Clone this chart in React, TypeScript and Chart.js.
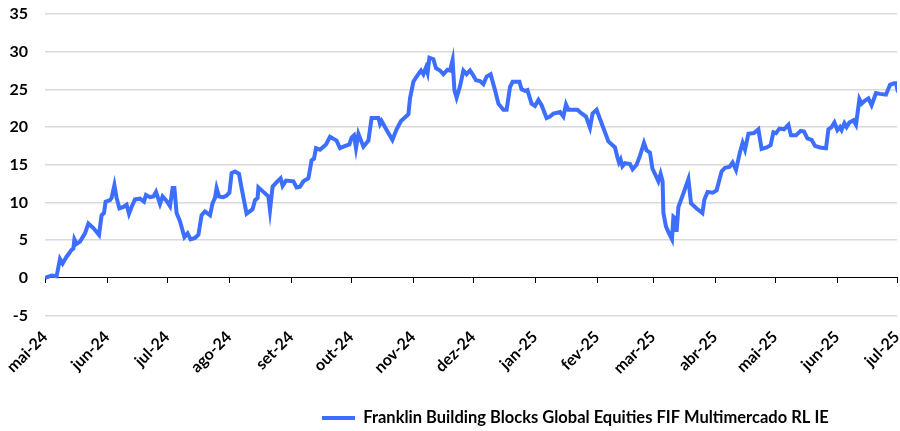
import React, { useEffect, useRef } from "react";
import { Chart, registerables } from "chart.js";

Chart.register(...registerables);

// Month tick labels (first day of each month, starting 1 May 2024)
const monthLabels = [
  "mai-24", "jun-24", "jul-24", "ago-24", "set-24", "out-24", "nov-24", "dez-24",
  "jan-25", "fev-25", "mar-25", "abr-25", "mai-25", "jun-25", "jul-25",
];

// Days elapsed since 1 May 2024
const days = [
  0, 3.3, 5.8, 7.5, 8.8, 10.8, 13.3, 14.2, 14.7, 15.8, 17.5, 20, 21.7, 24.2, 27, 28.3, 29.5, 30.3,
  32.5, 33.3, 34.7, 35.8, 37.2, 39.2, 40.8, 42, 43.3, 45, 47.5, 49.5, 50.5, 52.5, 54.2, 55.5, 57.5,
  58.8, 60.8, 62.5, 63.8, 64.7, 65.8, 67.5, 69.7, 71.3, 72.8, 75, 76.7, 78.3, 80, 82.5, 83.8, 85,
  85.8, 87, 89.2, 90.8, 92.2, 93.3, 95, 97, 98.3, 100.8, 103.8, 105, 106.3, 106.7, 109.2, 111.7,
  112.5, 113.8, 116.2, 117.8, 118.8, 120.5, 124.2, 125.8, 127.5, 129.2, 131.7, 133.3, 134.5, 135.5,
  137.5, 139.2, 140.5, 142.5, 145.8, 147.5, 149.2, 152.2, 153.3, 154.5, 155.5, 156.7, 159.2, 161.7,
  163.3, 166.7, 167.5, 168.3, 170.8, 173.7, 175.8, 178, 181.7, 182.5, 184.2, 185.8, 188, 189.2,
  190.5, 191.3, 192.2, 194.2, 195.5, 197.5, 199.2, 201.2, 202.5, 203.8, 204.7, 205.8, 207.5, 209.2,
  210.8, 212.5, 213.8, 215.5, 217.5, 219.2, 220.8, 222.8, 225, 226.7, 229.2, 230.8, 232.5, 233.8,
  237.2, 238.3, 240, 241.2, 243.3, 245, 246.7, 248.3, 250.8, 252.5, 254.2, 257.5, 259.2, 260.5,
  261.7, 263.3, 266.2, 268.3, 270.5, 272.5, 273.8, 275.8, 278.3, 281.7, 285, 286.2, 287, 287.8,
  288.7, 290, 292.5, 293.8, 295.8, 297.5, 299.5, 300.8, 302.5, 303.7, 305.5, 306.7, 307.8, 308.8,
  309.2, 310.5, 312.2, 313.5, 314.2, 315, 315.8, 316.7, 319.2, 321.7, 323, 325.8, 328.7, 329.7,
  331.3, 333.8, 335.8, 338.3, 340, 342.2, 343.8, 345.5, 347.5, 348.8, 350, 351.7, 354.5, 356.7,
  358.3, 360.8, 362.8, 364.2, 365.5, 367.2, 369.5, 371.7, 373, 375.5, 377.8, 379.5, 381.2, 383.3,
  385, 387.5, 390.5, 391.7, 393.3, 394.7, 396.2, 397.5, 398.3, 399.7, 400.8, 402.2, 404.2, 405.5,
  407.2, 408.3, 409.5, 411.7, 413.3, 415.5, 417.5, 420.5, 422.5, 424.5, 425.5, 426.5,
];

// Franklin Building Blocks Global Equities FIF Multimercado RL IE (%)
const values = [
  0.0, 0.3, 0.2, 2.5, 1.9, 2.8, 3.7, 3.9, 5.1, 4.5, 4.8, 5.9, 7.2, 6.6, 5.7, 8.3, 8.6, 10.1,
  10.3, 10.6, 12.3, 10.6, 9.2, 9.4, 9.7, 8.5, 9.4, 10.4, 10.5, 10.1, 11.0, 10.7, 10.8, 11.4, 9.8,
  10.8, 10.2, 9.5, 11.9, 11.9, 8.6, 7.5, 5.4, 5.9, 5.1, 5.3, 5.7, 8.3, 8.8, 8.3, 9.9, 10.6,
  11.9, 10.8, 10.7, 10.9, 11.3, 13.9, 14.1, 13.8, 11.9, 8.5, 9.1, 10.3, 10.6, 12.0, 11.4, 10.8,
  9.0, 12.1, 12.8, 13.2, 12.2, 12.9, 12.8, 12.0, 12.1, 12.8, 13.2, 15.6, 15.8, 17.2,
  17.0, 17.4, 17.7, 18.7, 18.2, 17.2, 17.4, 17.7, 18.6, 18.9, 17.2, 19.1, 17.4, 18.2,
  21.2, 21.2, 20.4, 20.8, 19.6, 18.3, 19.7, 20.8, 21.7, 23.8, 26.0, 26.7, 27.5, 27.0,
  27.9, 27.2, 29.2, 29.0, 27.8, 27.5, 27.0, 27.6, 27.5, 28.9, 24.9, 23.9, 25.4, 27.5,
  27.0, 27.5, 27.0, 26.2, 26.1, 25.7, 26.7, 27.0, 24.9, 23.1, 22.3, 22.3, 25.3, 26.0,
  26.0, 25.0, 24.8, 24.9, 23.1, 22.8, 23.6, 22.9, 21.2, 21.4, 21.8, 22.0, 21.4, 23.0,
  22.3, 22.3, 22.3, 21.8, 21.4, 19.9, 21.8, 22.3, 20.5, 18.1, 17.3, 16.0, 15.3, 15.7,
  14.8, 15.2, 15.1, 14.4, 15.0, 16.2, 17.9, 16.9, 16.6, 14.5, 13.5, 12.8, 13.8, 12.8,
  8.6, 6.8, 5.8, 5.1, 8.1, 7.9, 6.1, 9.4, 11.2, 13.1, 9.9, 9.2, 8.6, 10.4,
  11.4, 11.3, 11.6, 14.1, 14.6, 14.7, 15.3, 14.3, 16.7, 17.9, 17.0, 19.1, 19.2, 19.7,
  17.1, 17.3, 17.6, 19.3, 19.2, 19.8, 19.7, 20.3, 18.9, 18.9, 19.5, 19.4, 18.5, 18.3,
  17.5, 17.3, 17.2, 19.7, 20.0, 20.6, 19.6, 20.0, 19.6, 20.5, 20.0, 20.6, 20.9, 20.3,
  23.7, 23.1, 23.4, 23.8, 22.9, 24.5, 24.4, 24.3, 25.6, 25.8, 25.8, 24.6,
];

const yTicks = [-5, 0, 5, 10, 15, 20, 25, 30, 35];

const seriesName = "Franklin Building Blocks Global Equities FIF Multimercado RL IE";

const DAY = 86400000;
const monthDays = monthLabels.map((_, i) =>
  Math.round((Date.UTC(2024, 4 + i, 1) - Date.UTC(2024, 4, 1)) / DAY)
);

const FONT = "Lato, 'Noto Sans', sans-serif";
const BLUE = "#3c6eff";
const LEGEND_SIZE = 16.5;
const LEGEND_PAD = 8;

const legendPlacer = {
  id: "legendPlacer",
  afterLayout(chart: any) {
    const lg = chart.legend;
    if (!lg) return;
    const w = lg.right - lg.left;
    const h = lg.bottom - lg.top;
    lg.left = 322 - LEGEND_PAD;
    lg.right = lg.left + w;
    lg.top = 418 - LEGEND_PAD - LEGEND_SIZE / 2;
    lg.bottom = lg.top + h;
  },
};

export default function App() {
  const ref = useRef<HTMLCanvasElement | null>(null);

  useEffect(() => {
    if (!ref.current) return;
    const setMonthTicks = (scale: any) => {
      scale.ticks = monthDays.map((v) => ({ value: v }));
    };
    const chart = new Chart(ref.current, {
      type: "line",
      data: {
        datasets: [
          {
            label: seriesName,
            data: days.map((d, i) => ({ x: d, y: values[i] })),
            borderColor: BLUE,
            backgroundColor: BLUE,
            borderWidth: 4,
            pointRadius: 0,
            tension: 0,
            xAxisID: "x",
            yAxisID: "y",
          },
        ],
      },
      plugins: [legendPlacer],
      options: {
        responsive: false,
        animation: false,
        layout: { padding: { top: 14, right: 3, left: 0, bottom: 4 } },
        plugins: {
          tooltip: { enabled: false },
          legend: {
            position: "bottom",
            align: "start",
            labels: {
              usePointStyle: true,
              pointStyle: "line",
              pointStyleWidth: 33,
              boxHeight: 4,
              color: "#000",
              padding: LEGEND_PAD,
              font: { family: FONT, size: LEGEND_SIZE, weight: "bold" },
            },
          },
        },
        scales: {
          x: {
            type: "linear",
            position: "bottom",
            min: 0,
            max: monthDays[monthDays.length - 1],
            afterBuildTicks: setMonthTicks,
            afterFit: (scale: any) => {
              scale.height = 77;
              scale.paddingLeft = 0;
              scale.paddingRight = 0;
            },
            grid: { display: false, drawTicks: false },
            border: { display: false },
            ticks: {
              autoSkip: false,
              maxRotation: 45,
              minRotation: 45,
              padding: 12,
              color: "#000",
              font: { family: FONT, size: 16, weight: "bold" },
              callback: (v: any) => {
                const i = monthDays.indexOf(Number(v));
                return i >= 0 ? monthLabels[i] : "";
              },
            },
          },
          x0: {
            type: "linear",
            position: { y: 0 } as any,
            min: 0,
            max: monthDays[monthDays.length - 1],
            afterBuildTicks: setMonthTicks,
            afterFit: (scale: any) => {
              scale.paddingLeft = 0;
              scale.paddingRight = 0;
            },
            grid: {
              display: true,
              drawOnChartArea: false,
              drawTicks: true,
              tickLength: 5,
              color: "#000",
              lineWidth: 1,
            },
            border: { display: true, color: "#000", width: 1 },
            ticks: { display: false, autoSkip: false, maxRotation: 0 },
          },
          y: {
            min: yTicks[0],
            max: yTicks[yTicks.length - 1],
            afterBuildTicks: (scale: any) => {
              scale.ticks = yTicks.map((v) => ({ value: v }));
            },
            afterFit: (scale: any) => {
              scale.width = 45;
              scale.paddingTop = 0;
              scale.paddingBottom = 0;
            },
            grid: {
              drawTicks: false,
              color: (ctx: any) => (ctx.tick && ctx.tick.value === 0 ? "rgba(0,0,0,0)" : "#d9d9d9"),
              lineWidth: 1.5,
            },
            border: { display: false },
            ticks: {
              padding: 17,
              color: "#000",
              font: { family: FONT, size: 16, weight: "bold" },
            },
          },
        },
      },
    });
    return () => chart.destroy();
  }, []);

  return (
    <canvas
      ref={ref}
      width={900}
      height={431}
      style={{ position: "absolute", left: 0, top: 0, display: "block", width: 900, height: 431 }}
    />
  );
}
